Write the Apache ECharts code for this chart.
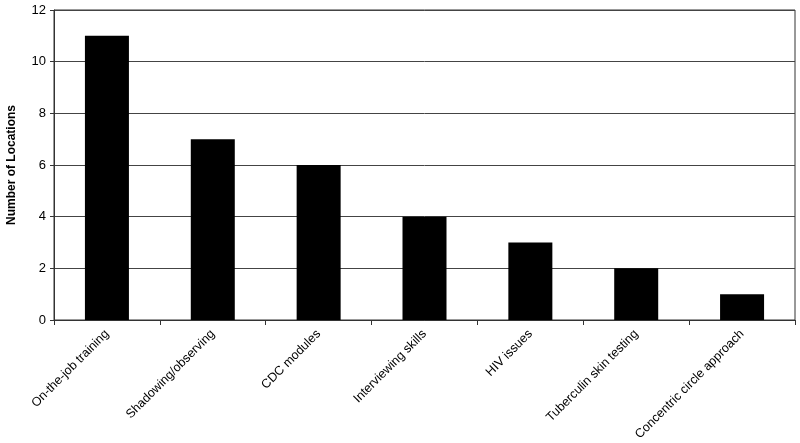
<!DOCTYPE html>
<html lang="en">
<head>
    <meta charset="UTF-8">
    <title>echarts</title>
    <script src="https://cdn.jsdelivr.net/npm/echarts/dist/echarts.min.js"></script>
</head>
<body style="margin:0;background:#fff;">
<div id="main" style="width: 800px;height:443px;"></div>
<script type="text/javascript">
    // 培训方式
    var categories = ['On-the-job training', 'Shadowing/observing', 'CDC modules', 'Interviewing skills',
        'HIV issues', 'Tuberculin skin testing', 'Concentric circle approach'];
    // 地点数量
    var locations = [11, 7, 6, 4, 3, 2, 1];
    var yTicks = [0, 2, 4, 6, 8, 10, 12];

    var chart = echarts.init(document.getElementById('main'));
    chart.setOption({
        animation: false,
        textStyle: { fontFamily: 'Liberation Sans, Arial, sans-serif' },
        grid: {
            left: 54, top: 10, right: 5, bottom: 123,
            outerBoundsMode: 'none',
            containLabel: false,
            show: true, borderColor: '#333', borderWidth: 1, backgroundColor: '#fff'
        },
        xAxis: {
            type: 'category',
            data: categories,
            axisLine: { lineStyle: { color: '#333' } },
            axisTick: { show: true, alignWithLabel: false, length: 5, lineStyle: { color: '#333' } },
            axisLabel: { rotate: 45, color: '#000', fontSize: 12.5, margin: 12, interval: 0 }
        },
        yAxis: {
            type: 'value',
            min: yTicks[0], max: yTicks[yTicks.length - 1], interval: 2,
            name: 'Number of Locations',
            nameLocation: 'middle',
            nameGap: 36,
            nameTextStyle: { fontWeight: 'bold', fontSize: 12, color: '#000' },
            axisLine: { show: true, lineStyle: { color: '#333' } },
            axisTick: { show: true, length: 4, lineStyle: { color: '#333' } },
            axisLabel: { color: '#000', fontSize: 13, margin: 8 },
            splitLine: { lineStyle: { color: '#444', width: 1 } }
        },
        series: [{
            type: 'bar',
            data: locations,
            barWidth: 44,
            itemStyle: { color: '#000' }
        }]
    });
</script>
</body>
</html>
